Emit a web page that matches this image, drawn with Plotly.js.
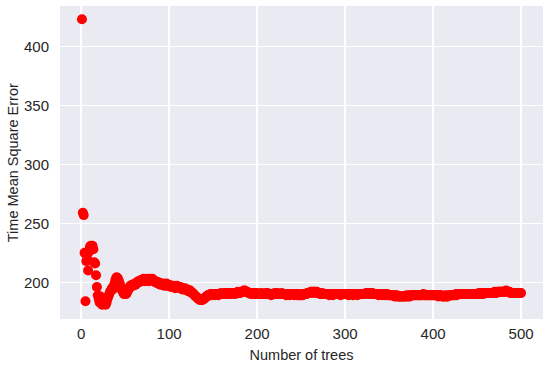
<!DOCTYPE html>
<html>
<head>
<meta charset="utf-8">
<script src="https://cdn.plot.ly/plotly-3.0.1.min.js"></script>
<style>
  html, body { margin: 0; padding: 0; background: #ffffff; }
  #chart { width: 550px; height: 366px; }
</style>
</head>
<body>
<div id="chart"></div>
<script>
// time mean square error for forests of 1..500 trees
const mse = [
  423, 259, 257, 225, 184, 218, 220, 210, 226, 230,
  231, 229, 231, 228, 217, 216, 206, 196, 189, 186,
  183, 188, 182, 181, 184, 182, 185, 181, 183, 186,
  188, 190, 192, 193, 195, 194, 196, 199, 202, 204,
  204, 203, 201, 199, 196, 194, 193, 191, 190, 191,
  190, 191, 193, 194, 196, 197, 197, 198, 197, 198,
  199, 198, 199, 200, 201, 200, 201, 202, 201, 202,
  203, 202, 201, 202, 203, 202, 201, 202, 203, 202,
  203, 202, 201, 200, 201, 200, 199, 200, 199, 198,
  199, 198, 199, 198, 197, 198, 199, 198, 197, 198,
  197, 196, 197, 196, 197, 196, 195, 196, 197, 196,
  196, 195, 196, 195, 194, 195, 194, 195, 194, 193,
  194, 193, 192, 193, 192, 191, 191, 190, 189, 188,
  188, 187, 186, 186, 185, 185, 185, 185, 186, 186,
  187, 188, 188, 189, 189, 189, 190, 189, 190, 190,
  190, 189, 190, 190, 190, 189, 190, 190, 191, 190,
  190, 190, 191, 190, 190, 191, 191, 190, 191, 191,
  190, 191, 191, 191, 190, 191, 191, 192, 191, 191,
  191, 192, 192, 192, 193, 193, 192, 192, 192, 191,
  191, 191, 190, 191, 191, 191, 190, 190, 191, 191,
  190, 190, 190, 190, 191, 190, 190, 190, 190, 191,
  190, 191, 190, 190, 190, 189, 190, 190, 190, 191,
  190, 190, 191, 190, 190, 190, 190, 191, 190, 190,
  190, 190, 189, 190, 190, 190, 189, 190, 190, 190,
  190, 189, 190, 190, 189, 190, 189, 189, 189, 190,
  189, 189, 190, 190, 190, 190, 191, 191, 191, 191,
  192, 192, 191, 192, 192, 192, 191, 192, 191, 191,
  191, 190, 190, 191, 190, 190, 190, 190, 190, 190,
  190, 189, 190, 190, 190, 189, 190, 190, 190, 190,
  190, 190, 190, 190, 189, 190, 190, 190, 190, 190,
  190, 190, 190, 189, 190, 190, 190, 190, 189, 190,
  190, 190, 190, 189, 190, 190, 190, 190, 190, 190,
  190, 190, 190, 191, 191, 191, 191, 190, 190, 191,
  191, 190, 190, 190, 190, 190, 190, 189, 190, 190,
  190, 189, 190, 190, 189, 190, 189, 190, 189, 189,
  189, 189, 189, 189, 189, 188, 189, 188, 189, 188,
  188, 188, 188, 188, 188, 188, 188, 188, 188, 189,
  188, 188, 189, 188, 189, 189, 189, 189, 189, 189,
  189, 189, 189, 189, 189, 189, 189, 189, 190, 189,
  189, 189, 189, 189, 189, 189, 189, 189, 189, 189,
  189, 189, 189, 189, 189, 188, 189, 189, 189, 188,
  188, 188, 188, 189, 188, 188, 188, 189, 189, 189,
  189, 189, 189, 189, 189, 190, 189, 190, 190, 190,
  190, 190, 190, 190, 190, 190, 190, 190, 190, 190,
  190, 190, 190, 190, 190, 190, 190, 190, 190, 190,
  190, 191, 190, 190, 191, 191, 190, 191, 191, 191,
  191, 191, 191, 191, 191, 191, 191, 191, 191, 192,
  191, 191, 192, 192, 192, 192, 192, 192, 192, 192,
  192, 192, 193, 192, 192, 192, 192, 191, 191, 191,
  191, 191, 191, 191, 191, 191, 191, 191, 191, 191
];
const nTrees = mse.map((_, i) => i + 1);

const xTicks = [0, 100, 200, 300, 400, 500];
const yTicks = [200, 250, 300, 350, 400];

let trace1 = {
  x: nTrees,
  y: mse,
  mode: 'markers',
  type: 'scatter',
  marker: {
    color: 'rgb(255, 0, 0)',
    size: 10,
    line: { width: 0 }
  },
  hoverinfo: 'x+y'
};

let tickFont = { family: 'Liberation Sans, Arial, sans-serif', size: 15, color: '#262626' };
let titleFont = { family: 'Liberation Sans, Arial, sans-serif', size: 14.5, color: '#262626' };

var layout = {
  width: 550,
  height: 366,
  margin: { l: 60, r: 7, t: 6, b: 47 },
  paper_bgcolor: '#ffffff',
  plot_bgcolor: '#EAEAF2',
  showlegend: false,
  font: tickFont,
  xaxis: {
    range: [-23.95, 524.95],
    tickvals: xTicks,
    ticks: 'outside',
    ticklen: 1,
    tickcolor: 'rgba(0,0,0,0)',
    showgrid: true,
    gridcolor: '#ffffff',
    gridwidth: 1.2,
    zeroline: false,
    showline: false,
    tickfont: tickFont,
    title: { text: 'Number of trees', font: titleFont, standoff: 8 }
  },
  yaxis: {
    range: [168.9, 434.3],
    tickvals: yTicks,
    ticks: 'outside',
    ticklen: 7,
    tickcolor: 'rgba(0,0,0,0)',
    showgrid: true,
    gridcolor: '#ffffff',
    gridwidth: 1.2,
    zeroline: false,
    showline: false,
    tickfont: tickFont
  },
  // y title placed by hand so it sits where the reference puts it
  annotations: [{
    text: 'Time Mean Square Error',
    xref: 'paper', yref: 'paper',
    x: -(60 - 12.7) / 483, y: 0.5,
    xanchor: 'center', yanchor: 'middle',
    textangle: -90,
    showarrow: false,
    font: titleFont
  }]
};

Plotly.newPlot('chart', [trace1], layout, { displayModeBar: false, staticPlot: true });
</script>
</body>
</html>
